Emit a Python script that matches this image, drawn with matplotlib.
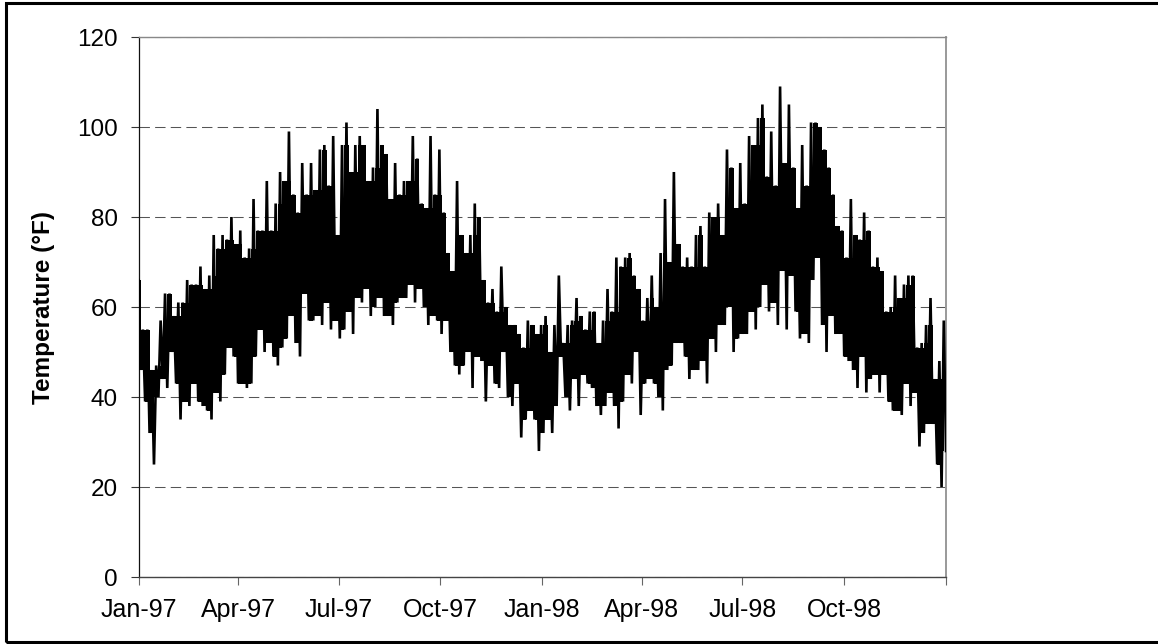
import matplotlib
matplotlib.use('Agg')
import matplotlib.pyplot as plt
import numpy as np
import pandas as pd
from matplotlib.patches import Rectangle

# highs and lows, one pair every 4 days from 1 Jan 1997
highs = [66, 55, 55, 46, 47, 57, 63, 63, 58, 61, 61, 66, 65, 65, 69, 64, 67, 76, 73, 76,
         75, 80, 74, 77, 71, 73, 84, 77, 77, 88, 77, 83, 90, 88, 99, 85, 81, 92, 85, 92,
         86, 95, 96, 87, 98, 76, 96, 101, 90, 96, 98, 96, 88, 91, 104, 96, 94, 84, 92, 85,
         88, 88, 98, 93, 83, 82, 98, 85, 95, 81, 72, 68, 88, 76, 72, 76, 83, 80, 66, 61,
         64, 59, 69, 60, 56, 56, 54, 51, 57, 56, 54, 56, 58, 50, 56, 67, 52, 56, 57, 62,
         58, 55, 59, 59, 52, 57, 64, 59, 71, 69, 71, 72, 67, 64, 57, 62, 67, 60, 72, 84,
         70, 90, 74, 69, 71, 69, 76, 78, 69, 81, 80, 83, 76, 95, 91, 82, 92, 83, 98, 96,
         102, 105, 89, 99, 87, 109, 92, 105, 91, 82, 96, 87, 101, 101, 100, 95, 91, 85, 78, 77,
         71, 84, 76, 75, 81, 77, 69, 71, 68, 59, 60, 67, 62, 65, 67, 67, 51, 52, 56, 62,
         44, 48, 57]
lows = [46, 39, 32, 25, 40, 44, 42, 50, 43, 35, 39, 38, 43, 39, 38, 37, 35, 41, 39, 45,
        51, 49, 43, 43, 42, 43, 49, 55, 50, 52, 49, 47, 51, 53, 58, 52, 49, 63, 57, 57,
        58, 56, 61, 55, 57, 53, 55, 59, 54, 62, 61, 64, 58, 60, 62, 58, 58, 56, 61, 62,
        62, 65, 61, 64, 60, 56, 58, 57, 54, 57, 50, 47, 45, 47, 50, 42, 49, 48, 39, 47,
        43, 42, 50, 40, 38, 43, 31, 35, 37, 35, 28, 32, 35, 32, 38, 49, 40, 37, 44, 38,
        45, 43, 42, 38, 36, 38, 41, 38, 33, 39, 45, 43, 50, 36, 43, 44, 43, 40, 37, 46,
        47, 52, 52, 49, 44, 46, 46, 48, 43, 53, 50, 56, 56, 60, 50, 53, 54, 54, 59, 55,
        60, 65, 59, 61, 56, 68, 55, 67, 59, 53, 54, 52, 66, 71, 56, 50, 58, 54, 54, 49,
        48, 46, 42, 49, 41, 44, 45, 41, 45, 39, 37, 37, 36, 43, 38, 41, 29, 32, 34, 34,
        25, 20, 28]

tick_days = [0, 90, 181, 273, 365, 455, 546, 638, 730]
tick_labels = ['Jan-97', 'Apr-97', 'Jul-97', 'Oct-97', 'Jan-98', 'Apr-98', 'Jul-98', 'Oct-98', '']
y_ticks = [0, 20, 40, 60, 80, 100, 120]

W, H = 1158, 644
plt.rcParams['font.family'] = ['Liberation Sans', 'DejaVu Sans']

fig = plt.figure(figsize=(W / 100, H / 100), dpi=100)
fig.add_artist(Rectangle((5.5 / W, 1 - 642 / H), 1.2, 639 / H, transform=fig.transFigure,
                         fill=False, edgecolor='black', linewidth=2.2))

ax = fig.add_axes([138.5 / W, 1 - 577 / H, 807.5 / W, 540 / H])

days = np.arange(len(highs)) * 4
hi = pd.Series(highs, dtype=float)
lo = pd.Series(lows, dtype=float)

# zigzag between each high and low, with the dense middle filled in
x = np.column_stack([days, days + 2]).ravel()
y = np.column_stack([highs, lows]).ravel()
body_top = hi.rolling(2, min_periods=1).min()
body_bottom = lo.rolling(2, min_periods=1).max()
ax.fill_between(days, body_bottom, body_top, color='black', linewidth=0, zorder=3, step='mid')
ax.plot(x, y, color='black', linewidth=1.9, solid_joinstyle='miter', zorder=3)

ax.set_xlim(0, 730)
ax.set_ylim(0, 120)
ax.set_xticks(tick_days)
ax.set_xticklabels(tick_labels)
ax.set_yticks(y_ticks)
ax.grid(axis='y', color='#555555', linewidth=0.75, linestyle=(0, (10, 5)), zorder=1)
ax.tick_params(axis='y', length=6, width=0.8, color='#333333', labelsize=17.5, pad=9)
ax.tick_params(axis='x', length=6, width=0.8, color='#666666', labelsize=18, pad=9)
ax.set_ylabel('Temperature (°F)', fontsize=17.5, fontweight='bold', labelpad=16)

ax.spines['left'].set_color('#111111')
ax.spines['left'].set_linewidth(0.9)
ax.spines['bottom'].set_color('#444444')
ax.spines['bottom'].set_linewidth(1.0)
ax.spines['top'].set_color('#888888')
ax.spines['top'].set_linewidth(1.0)
ax.spines['right'].set_color('#999999')
ax.spines['right'].set_linewidth(1.4)

fig.savefig('out.png', dpi=100)
